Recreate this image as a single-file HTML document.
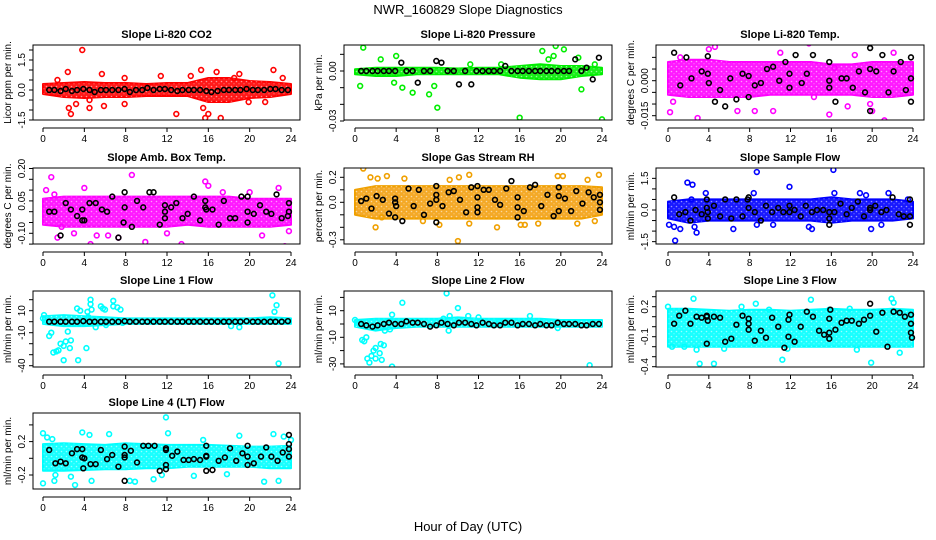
<!DOCTYPE html>
<html><head><meta charset="utf-8"><style>
body{margin:0;background:#fff}
svg{display:block;font-family:"Liberation Sans",sans-serif}
</style></head><body>
<svg id="c" width="936" height="540" viewBox="0 0 936 540">
<defs><pattern id="speck" width="5" height="5" patternUnits="userSpaceOnUse"><circle cx="1.5" cy="1.5" r="0.8" fill="#fff" fill-opacity="0.55"/><circle cx="4" cy="3.8" r="0.6" fill="#fff" fill-opacity="0.45"/></pattern></defs>
<text x="468" y="14" font-size="13" text-anchor="middle">NWR_160829  Slope Diagnostics</text>
<text x="468" y="531" font-size="13" text-anchor="middle">Hour of Day (UTC)</text>
</svg>
<script>
// ---- shared data ----
const bandHours = [0,2,4,6,8,10,12,14,16,18,20,22,24];
const xTicks = [0,4,8,12,16,20,24];
const blackHours = [0.6,1.1,1.7,2.2,2.8,3.3,3.9,4.5,5.0,5.6,6.1,6.7,7.3,7.9,8.4,9.0,9.6,10.1,10.7,11.3,11.8,12.4,13.0,13.5,14.1,14.6,15.2,15.8,16.3,16.9,17.5,18.0,18.6,19.1,19.7,20.3,20.8,21.4,22.0,22.5,23.1,23.7];

// ---- P1 CO2 ----
const co2Hi = [0.3,0.35,0.4,0.35,0.35,0.3,0.35,0.35,0.6,0.6,0.45,0.4,0.3];
const co2Lo = [-0.2,-0.35,-0.4,-0.35,-0.35,-0.3,-0.3,-0.3,-0.6,-0.6,-0.4,-0.35,-0.2];
const co2OutX = [3.8,2.4,2.5,2.7,5.7,4.5,4.5,5.9,7.9,7.9,12.9,14.3,15.3,15.5,15.7,16.0,16.8,17.2,18.5,19.0,19.9,21.5,22.3,23.2,11.4,1.4,3.2];
const co2OutY = [2.0,0.9,-0.9,-1.2,0.8,-0.5,-0.9,-0.8,0.6,-0.7,-1.2,0.7,1.0,-0.9,-1.4,-1.2,0.9,-1.4,0.6,0.8,-0.6,-0.6,1.0,0.6,0.7,0.5,-0.7];
const co2BlkY = [0,0,-0.05,0.05,-0.05,0,0.05,0,-0.1,0,0,0,0,0.05,-0.1,0,0,0.1,0,0.05,0.05,0,-0.05,0,0,0,0,-0.05,-0.1,-0.05,0,0,0,0,0.05,0,0,0,0.05,0.05,0,0];
// ---- P2 Pressure ----
const prHi = [0.001,0.002,0.002,0.002,0.002,0.0015,0.002,0.002,0.003,0.004,0.003,0.003,0.002];
const prLo = [-0.002,-0.003,-0.003,-0.002,-0.002,-0.002,-0.002,-0.002,-0.004,-0.005,-0.005,-0.003,-0.002];
const prOutX = [0.8,0.5,2.5,4,3.8,4.6,5.6,7.2,8,7.7,11.2,14.2,16,18.2,18.8,19.5,20.3,19.3,22,24,23.3,21.7];
const prOutY = [0.014,-0.009,0.007,0.009,-0.007,-0.01,-0.013,-0.014,-0.022,-0.009,0.004,0.004,-0.028,0.012,0.007,0.015,0.013,0.009,-0.011,-0.029,0.004,0.008];
const prBlkY = [0,0,0,0,0,0,0,0.005,0,0,-0.007,0,0,0.006,0.005,0,0,-0.008,0,-0.008,0,0,0,0,0,0.003,0,0,0,0,0,0,0,0,0,0,0,0.007,0,0.002,-0.005,0.008];
// ---- P3 Li-820 Temp ----
const tHi = [0.008,0.009,0.009,0.008,0.008,0.008,0.008,0.008,0.007,0.007,0.008,0.008,0.008];
const tLo = [-0.006,-0.007,-0.007,-0.007,-0.007,-0.006,-0.006,-0.006,-0.006,-0.006,-0.007,-0.007,-0.006];
const tOutX = [0.2,0.5,1.2,2.9,3.1,2.8,4,4.6,7.2,6.8,8.5,10.3,11,13.8,16.3,18.3,17.6,20,21.2,22.1,19.8,14.3,15.8];
const tOutY = [-0.0135,-0.009,0.01,-0.016,-0.0185,-0.018,0.0135,0.0145,-0.018,-0.013,-0.013,-0.013,0.012,0.016,0.0055,0.011,-0.011,-0.013,-0.017,0.012,-0.01,-0.007,-0.0145];
const tBlkX = [0.6,1.2,1.8,2.3,3.3,3.9,3.9,4,4.6,5.1,5.6,6.1,6.7,7.3,7.9,7.9,8.5,9.1,9.7,10.3,10.9,11.5,11.9,11.9,12.5,13.1,13.6,14.2,15,15.8,15.8,15.8,16.4,17,17.5,18.1,18.7,19.3,19.8,19.8,19.8,20.4,21,21.6,22.1,22.8,23.3,23.8,23.8,23.8];
const tBlkY = [0.012,-0.002,0.010,0.001,0.004,0.0105,0.003,-0.001,-0.009,-0.004,-0.011,0.001,-0.008,0.003,0.002,-0.007,-0.002,-0.001,0.005,0.006,0,0.008,0.003,-0.003,0.011,-0.001,0.003,0.011,0.019,0.008,0,-0.003,-0.009,0.001,0.001,-0.003,0.004,-0.005,0.014,0.005,-0.013,0.004,0.011,-0.005,0.004,0.008,-0.004,0.010,0.001,-0.009];
// ---- P4 Amb Box Temp ----
const abHi = [0.06,0.07,0.07,0.07,0.07,0.07,0.07,0.07,0.07,0.07,0.06,0.06,0.06];
const abLo = [-0.06,-0.07,-0.07,-0.07,-0.07,-0.07,-0.07,-0.06,-0.07,-0.07,-0.07,-0.07,-0.06];
const abOutX = [0.3,0.8,1.8,1.4,4.6,6.3,7.3,8.6,9.9,10.2,13.4,12,15.7,16,17.4,20,21.2,22.8,23.4,23.8,3,5.2,4,1.1];
const abOutY = [0.1,0.16,-0.07,-0.12,-0.15,-0.11,-0.12,0.17,-0.14,0.22,-0.15,-0.1,0.14,0.12,0.09,0.09,-0.11,0.11,-0.16,-0.09,-0.1,-0.11,0.11,0.08];
const abBlkX = [0.6,1.1,1.7,2.2,2.7,3.3,3.8,3.8,4,4.5,5.1,5.7,6.2,6.7,7.3,7.8,7.9,7.9,8.6,9.1,9.7,10.3,10.7,11.3,11.8,11.8,11.8,12.4,12.9,13.5,14,14.6,15.2,15.7,15.7,15.8,16.4,17,17.5,18.1,18.6,19.2,19.8,19.8,19.8,20.4,21,21.6,22.1,22.6,23.1,23.7,23.8,23.8];
const abBlkY = [0,0,-0.11,0.04,0.01,-0.02,0.01,-0.04,-0.04,0.04,0.04,0.01,0,0.07,-0.12,-0.05,0.02,0.09,-0.07,0.05,0.02,0.09,0.09,-0.06,0.03,0,-0.03,0.02,0.04,-0.03,-0.01,0.07,-0.04,0.05,0.02,0.01,0.01,-0.06,0.05,-0.03,-0.03,0.07,0.07,0,-0.05,-0.01,0.03,0,-0.01,0.08,-0.03,-0.02,0.04,0];
// ---- P5 Gas Stream RH ----
const rhHi = [0.1,0.13,0.13,0.13,0.13,0.13,0.13,0.13,0.13,0.13,0.13,0.13,0.12];
const rhLo = [-0.1,-0.13,-0.13,-0.13,-0.13,-0.13,-0.13,-0.13,-0.13,-0.13,-0.13,-0.13,-0.1];
const rhOutX = [0.8,1.5,2,2.2,3.1,4.8,6.6,8.2,9.2,10,10.1,11.1,11.1,13.8,16.1,16.5,17.8,19.7,20.2,21.6,22.6,23.7,23.3,2.6];
const rhOutY = [0.27,0.2,-0.2,0.19,0.21,0.19,-0.15,-0.18,0.18,-0.31,0.2,0.22,-0.17,-0.2,-0.18,-0.18,-0.17,0.21,0.21,-0.17,0.18,0.22,-0.15,-0.12];
const rhBlkX = [0.6,1.1,1.6,2.1,2.7,3.3,3.9,3.9,3.9,4,4.6,5.2,5.7,6.2,6.7,7.3,7.9,7.9,7.9,7.9,8.5,9.1,9.6,10.2,10.8,11.3,11.9,11.9,11.9,11.9,12.5,13,13.6,14.1,14.7,15.2,15.8,15.8,15.8,16.4,17,17.5,18.1,18.7,19.3,19.8,19.8,19.8,20.4,21,21.5,22.1,22.7,23.2,23.8,23.8,23.8];
const rhBlkY = [0.01,0.03,-0.05,0.05,0.02,-0.09,-0.12,0.03,0,-0.03,-0.15,0.11,-0.03,0.1,-0.1,-0.01,0.13,0.06,0.02,-0.16,-0.03,0.08,0.09,0.02,-0.08,0.12,0.13,0.04,-0.04,-0.08,0.1,0.1,0.02,-0.02,0.11,0.17,0.04,-0.04,-0.12,-0.07,0.12,0.14,-0.03,0.06,-0.11,0.12,0.05,-0.07,0.03,-0.07,0.09,-0.01,0.08,0.04,0.06,0,-0.06];
// ---- P6 Sample Flow ----
const sfHi = [0.4,0.5,0.5,0.5,0.5,0.5,0.5,0.5,0.6,0.5,0.5,0.5,0.4];
const sfLo = [-0.4,-0.6,-0.5,-0.5,-0.5,-0.5,-0.5,-0.5,-0.6,-0.5,-0.5,-0.5,-0.4];
const sfOutX = [0.1,0.7,0.6,1.2,1.9,2.4,2.6,2.8,2.3,3.7,6.4,8.7,8.4,8.7,11.9,10.3,13.8,14.1,16.2,16.3,18.8,19.4,19.9,21.6,20.9,23.5];
const sfOutY = [-0.7,-1.45,-0.8,-0.9,1.3,1.2,-0.8,-1.07,0.5,0.8,-0.9,1.8,0.8,-0.7,1.1,-0.7,-0.8,-0.9,1.9,0.8,0.8,0.7,-0.9,0.8,-0.7,0.5];
const sfBlkX = [0.6,1.1,1.7,2.2,2.7,3.3,3.8,3.8,3.9,3.9,4.5,5.1,5.6,6.2,6.7,7.3,7.8,7.9,7.9,8.5,9.1,9.6,10.2,10.8,11.3,11.9,11.9,12.4,13,13.5,14.1,14.6,15.2,15.8,15.8,15.8,16.3,16.9,17.5,18,18.6,19.2,19.8,19.8,20.3,20.9,21.4,22,22.6,23.1,23.7,23.7,23.7];
const sfBlkY = [0.6,-0.2,-0.1,-0.5,0,-0.2,0.5,0.1,-0.1,-0.4,0.2,-0.3,0.5,-0.4,0.5,-0.3,0.5,0.1,0.6,-0.1,-0.5,0.2,-0.1,0.1,-0.1,0.2,-0.1,0,-0.3,0.2,-0.1,0,0,-0.1,-0.4,-0.7,-0.1,0.3,-0.2,0.1,0.4,-0.3,0.1,0,0.2,-0.1,0,0.6,-0.2,-0.3,0.5,-0.3,-0.7];
// ---- P7 Line 1 Flow ----
const l1Hi = [5,6,5,4,3,3,3,3,3,3,3,4,3];
const l1Lo = [-2,-4,-4,-3,-2,-2,-2,-2,-2,-2,-2,-2,-2];
const l1OutX = [0,0.1,0.6,0.8,1,1.3,1.5,1.7,2,2,2.2,2.4,2.6,2.7,3.4,3.6,3.3,4.2,4.3,4.4,4.6,4.6,4.7,5.1,5.6,5.8,6,6.1,6.8,6.8,7.2,7.5,7.7,18.2,19,22.2,22.4,22.6,22.8];
const l1OutY = [3,6,-13,-10,-28,-27,-26,-20,-22,-35,-18,-9,-24,-17,-35,10,12,-24,9,4,20,16,11,-5,14,12,11,-3,19,14,13,11,-1,-4,-5,24,9,15,-38];
const l1BlkY = [0,0,0,0,0,0,0.5,0,0,0,0,0,0,0.5,0,0,0,0,0,0,0,0,0,0,0,0,0,0,0,0,0,0,0,0,0.5,0,0,0,0,0,0,0.5];
// ---- P8 Line 2 Flow ----
const l2Hi = [3,4,4,4,4,5,4,4,4,4,3,3,3];
const l2Lo = [-2,-5,-3,-2,-2,-2,-2,-2,-2,-2,-2,-2,-2];
const l2OutX = [0,0.7,0.9,1.1,1.2,1.4,1.6,1.8,2,2,2.2,2.4,2.5,2.6,2.8,2.9,3.4,3.6,3.6,4.6,8.9,9.1,9.2,10,8.6,11,12,17,19.7,22.8,14];
const l2OutY = [3,-12,-13,-10,-26,-29,-24,-20,-18,-26,-36,-22,-15,-27,-16,-5,-4,7,-32,16,23,-5,6,12,4,6,5,6,-3,-31,2];
const l2BlkY = [0,-1,-2,-1,0,1,0,0,2,1,1,0,-2,-1,1,0,-1,1,1,0,-1,1,0,-1,-1,1,1,-1,0,0,-1,0,-1,-1,1,0,0,0,-1,-1,0,0];
// ---- P9 Line 3 Flow ----
const l3Hi = [0.18,0.18,0.17,0.16,0.17,0.17,0.16,0.17,0.18,0.17,0.17,0.18,0.17];
const l3Lo = [-0.2,-0.2,-0.2,-0.2,-0.2,-0.2,-0.2,-0.2,-0.2,-0.2,-0.2,-0.2,-0.2];
const l3OutX = [0,0.4,1.6,2.5,2.8,3.1,4.5,5.5,7.2,8.6,9.9,11.7,11.2,14,15.8,18.5,19.9,21.9,22.1,22.7,17.8,23.8];
const l3OutY = [0.2,-0.2,-0.2,0.28,-0.23,-0.37,-0.37,-0.22,0.2,0.23,0.17,-0.22,-0.33,0.27,0.17,-0.23,-0.36,0.28,0.24,-0.26,0.18,0.03];
const l3BlkX = [0.6,1.1,1.7,2.2,2.8,3.3,3.8,3.8,3.9,3.8,4.5,5.1,5.6,6.2,6.7,7.3,7.9,7.9,7.9,8.5,9.1,9.6,10.2,10.8,11.4,11.8,11.8,11.9,12.4,13,13.6,14.2,14.8,15.3,15.9,15.8,15.8,15.8,16.4,17,17.5,18,18.7,19.2,19.8,19.8,20.4,21,21.5,22.1,22.7,23.2,23.8,23.8,23.8,23.9];
const l3BlkY = [0.03,0.11,0.16,0.03,0.1,0.09,0.1,0.11,0.06,-0.17,0.1,0.09,-0.15,-0.12,0.02,0.11,0.08,0.03,-0.03,-0.14,-0.04,-0.11,0.09,0,-0.21,-0.1,0.07,0.12,-0.15,0,0.15,0.1,-0.04,-0.08,0.17,0.08,-0.06,-0.12,-0.03,0.04,0.06,0.06,0.03,0.07,0.23,0.11,-0.05,0.14,-0.2,0.15,0.14,0.1,0.12,0.03,-0.06,-0.11];
// ---- P10 Line 4 (LT) Flow ----
const l4Hi = [0.17,0.18,0.17,0.16,0.18,0.17,0.16,0.16,0.16,0.15,0.14,0.14,0.15];
const l4Lo = [-0.15,-0.15,-0.14,-0.13,-0.13,-0.12,-0.12,-0.1,-0.1,-0.1,-0.1,-0.12,-0.12];
const l4OutX = [0,0.4,0.9,0,1.2,1.1,2.7,3.1,3.8,4.5,4.7,6.4,8.4,8.9,10.7,11.5,12.1,11.9,14.6,15.5,19,21.4,22.3,22.8,23.3,17.8,24];
const l4OutY = [0.3,0.25,0.23,-0.3,-0.2,-0.27,-0.22,-0.32,0.31,0.28,-0.27,0.29,-0.27,-0.28,-0.25,-0.2,0.3,0.49,-0.21,0.22,0.27,-0.28,0.29,-0.27,0.26,-0.19,0.22];
const l4BlkX = [0.6,1.2,1.7,2.2,2.8,3.3,3.8,3.8,4,3.9,4.6,5.1,5.6,6.2,6.7,7.3,7.9,7.9,7.9,7.9,8.5,9.1,9.7,10.2,10.8,11.3,11.9,11.9,11.9,11.9,12.5,13,13.6,14.1,14.6,15.2,15.8,15.8,15.8,15.8,16.4,17,17.6,18.1,18.7,19.3,19.8,19.8,19.8,20.4,21.1,21.6,22.1,22.7,23.2,23.8,23.8,23.8,23.8];
const l4BlkY = [0.1,-0.06,-0.04,-0.06,0.06,0.11,0.11,0.01,0,-0.12,-0.07,-0.07,0.1,-0.01,0.04,-0.1,0.14,0.04,0.01,-0.27,0.09,-0.05,0.15,0.15,0.15,-0.15,0.12,0.1,-0.08,-0.13,0.03,0.08,-0.02,-0.02,-0.01,-0.02,0.15,0.03,0.02,-0.15,-0.14,-0.03,0.01,0.12,-0.03,0.06,0.15,0.02,-0.08,-0.06,0.02,0.13,0.02,-0.03,0.07,0.28,0.17,0.11,0.02];

// ---- tick arrays ----
const p1Ticks=[-1.5,-1,-0.5,0,0.5,1,1.5,2], p1Labels=[[-1.5,"-1.5"],[0,"0.0"],[1.5,"1.5"]];
const p2Ticks=[-0.03,-0.02,-0.01,0,0.01], p2Labels=[[-0.03,"-0.03"],[0,"0.00"]];
const p3Ticks=[-0.015,-0.01,-0.005,0,0.005,0.01], p3Labels=[[-0.015,"-0.015"],[0,"0.000"]];
const p4Ticks=[-0.15,-0.1,-0.05,0,0.05,0.1,0.15,0.2], p4Labels=[[-0.1,"-0.10"],[0.05,"0.05"],[0.2,"0.20"]];
const p5Ticks=[-0.3,-0.2,-0.1,0,0.1,0.2], p5Labels=[[-0.3,"-0.3"],[0,"0.0"],[0.2,"0.2"]];
const p6Ticks=[-1.5,-1,-0.5,0,0.5,1,1.5], p6Labels=[[-1.5,"-1.5"],[0,"0.0"],[1.5,"1.5"]];
const p7Ticks=[-40,-30,-20,-10,0,10,20], p7Labels=[[-40,"-40"],[-10,"-10"],[10,"10"]];
const p8Ticks=[-30,-20,-10,0,10,20], p8Labels=[[-30,"-30"],[-10,"-10"],[10,"10"]];
const p9Ticks=[-0.4,-0.3,-0.2,-0.1,0,0.1,0.2,0.3], p9Labels=[[-0.4,"-0.4"],[-0.1,"-0.1"],[0.2,"0.2"]];
const p10Ticks=[-0.2,0,0.2,0.4], p10Labels=[[-0.2,"-0.2"],[0.2,"0.2"]];

// ---- layout (not data) ----
const cols=[{l:33,r:300,x0:43,x24:291},{l:344,r:612,x0:355,x24:602},{l:656,r:924,x0:668,x24:913}];
const rows=[{t:45,b:120},{t:168,b:244},{t:291,b:367},{t:413,b:489}];
const panels=[
 {c:0,r:0,title:"Slope Li-820 CO2",ylab:"Licor ppm per min.",col:"#ff0000",band:"#ff0000",y0:90,ppu:20,hi:co2Hi,lo:co2Lo,ox:co2OutX,oy:co2OutY,bx:blackHours,by:co2BlkY,ticks:p1Ticks,labels:p1Labels},
 {c:1,r:0,title:"Slope Li-820 Pressure",ylab:"kPa per min.",col:"#00ee00",band:"#00ee00",y0:71,ppu:1667,hi:prHi,lo:prLo,ox:prOutX,oy:prOutY,bx:blackHours,by:prBlkY,ticks:p2Ticks,labels:p2Labels},
 {c:2,r:0,title:"Slope Li-820 Temp.",ylab:"degrees C per min.",col:"#ff00ff",band:"#ff00ff",y0:80.7,ppu:2333,hi:tHi,lo:tLo,ox:tOutX,oy:tOutY,bx:tBlkX,by:tBlkY,ticks:p3Ticks,labels:p3Labels},
 {c:0,r:1,title:"Slope Amb. Box Temp.",ylab:"degrees C per min.",col:"#ff00ff",band:"#ff00ff",y0:211.7,ppu:216,hi:abHi,lo:abLo,ox:abOutX,oy:abOutY,bx:abBlkX,by:abBlkY,ticks:p4Ticks,labels:p4Labels},
 {c:1,r:1,title:"Slope Gas Stream RH",ylab:"percent per min.",col:"#f0a000",band:"#f3a010",y0:202.3,ppu:125,hi:rhHi,lo:rhLo,ox:rhOutX,oy:rhOutY,bx:rhBlkX,by:rhBlkY,ticks:p5Ticks,labels:p5Labels},
 {c:2,r:1,title:"Slope Sample Flow",ylab:"ml/min per min.",col:"#0000ff",band:"#0000ff",y0:210,ppu:21.1,hi:sfHi,lo:sfLo,ox:sfOutX,oy:sfOutY,bx:sfBlkX,by:sfBlkY,ticks:p6Ticks,labels:p6Labels},
 {c:0,r:2,title:"Slope Line 1 Flow",ylab:"ml/min per min.",col:"#00ffff",band:"#00ffff",y0:321.7,ppu:1.1,hi:l1Hi,lo:l1Lo,ox:l1OutX,oy:l1OutY,bx:blackHours,by:l1BlkY,ticks:p7Ticks,labels:p7Labels},
 {c:1,r:2,title:"Slope Line 2 Flow",ylab:"ml/min per min.",col:"#00ffff",band:"#00ffff",y0:324,ppu:1.33,hi:l2Hi,lo:l2Lo,ox:l2OutX,oy:l2OutY,bx:blackHours,by:l2BlkY,ticks:p8Ticks,labels:p8Labels},
 {c:2,r:2,title:"Slope Line 3 Flow",ylab:"ml/min per min.",col:"#00ffff",band:"#00ffff",y0:326.7,ppu:100,hi:l3Hi,lo:l3Lo,ox:l3OutX,oy:l3OutY,bx:l3BlkX,by:l3BlkY,ticks:p9Ticks,labels:p9Labels},
 {c:0,r:3,title:"Slope Line 4 (LT) Flow",ylab:"ml/min per min.",col:"#00ffff",band:"#00ffff",y0:458.3,ppu:83.5,hi:l4Hi,lo:l4Lo,ox:l4OutX,oy:l4OutY,bx:l4BlkX,by:l4BlkY,ticks:p10Ticks,labels:p10Labels}
];
const NS="http://www.w3.org/2000/svg", svg=document.getElementById("c");
function mk(tag,attrs,parent){const e=document.createElementNS(NS,tag);for(const k in attrs)e.setAttribute(k,attrs[k]);(parent||svg).appendChild(e);return e;}
panels.forEach((p,i)=>{
  const C=cols[p.c],R=rows[p.r];
  const g=mk("g",{});
  
  
  const sx=h=>C.x0+(C.x24-C.x0)*h/24, sy=v=>p.y0-v*p.ppu;
  const clipId="clip"+i;
  const cp=mk("clipPath",{id:clipId},g); mk("rect",{x:C.l,y:R.t,width:C.r-C.l,height:R.b-R.t},cp);
  const plot=mk("g",{"clip-path":"url(#"+clipId+")"},g);
  let d="";
  bandHours.forEach((h,k)=>{d+=(k?"L":"M")+sx(h).toFixed(1)+","+sy(p.hi[k]).toFixed(1);});
  for(let k=bandHours.length-1;k>=0;k--)d+="L"+sx(bandHours[k]).toFixed(1)+","+sy(p.lo[k]).toFixed(1);
  const band=mk("path",{d:d+"Z",fill:p.band,stroke:p.col,"stroke-width":2,"stroke-linejoin":"round","fill-opacity":0.9},plot);
  
  
  const sp=mk("path",{d:d+"Z",fill:"url(#speck)",stroke:"none"},plot);
  
  
  p.ox.forEach((h,k)=>{
    const c=mk("circle",{cx:sx(h),cy:sy(p.oy[k]),r:2.4,fill:"none",stroke:p.col,"stroke-width":1.6},plot);
    
    
  });
  p.bx.forEach((h,k)=>{
    const c=mk("circle",{cx:sx(h),cy:sy(p.by[k]),r:2.4,fill:"none",stroke:"#000","stroke-width":1.6},plot);
    
    
  });
  mk("rect",{x:C.l,y:R.t,width:C.r-C.l,height:R.b-R.t,fill:"none",stroke:"#000","stroke-width":1},g);
  const t=mk("text",{x:(C.l+C.r)/2,y:R.t-7,"font-size":11,"font-weight":"bold","text-anchor":"middle"},g);t.textContent=p.title;
  
  
  const ay=R.b+8;
  mk("line",{x1:sx(0),x2:sx(24),y1:ay,y2:ay,stroke:"#000"},g);
  xTicks.forEach(h=>{mk("line",{x1:sx(h),x2:sx(h),y1:ay,y2:ay+4,stroke:"#000"},g);
    const tl=mk("text",{x:sx(h),y:ay+14,"font-size":10,"text-anchor":"middle"},g);tl.textContent=h;
    
    });
  p.ticks.forEach(v=>{const y=sy(v);if(y<R.t-6||y>R.b+6)return;mk("line",{x1:C.l-4,x2:C.l,y1:y,y2:y,stroke:"#000"},g);});
  const tv=p.ticks.map(sy).filter(y=>y>=R.t-6&&y<=R.b+6);
  mk("line",{x1:C.l,x2:C.l,y1:Math.min(...tv),y2:Math.max(...tv),stroke:"#000"},g);
  p.labels.forEach(([v,s])=>{const y=sy(v),x=C.l-8;
    const tl=mk("text",{x:x,y:y,"font-size":10,"text-anchor":"middle",transform:`rotate(-90 ${x} ${y})`},g);tl.textContent=s;
    
    });
  const yx=C.l-22,ym=(R.t+R.b)/2;
  const yl=mk("text",{x:yx,y:ym,"font-size":10,"text-anchor":"middle",transform:`rotate(-90 ${yx} ${ym})`},g);yl.textContent=p.ylab;
  
  
});
</script>
</body></html>
